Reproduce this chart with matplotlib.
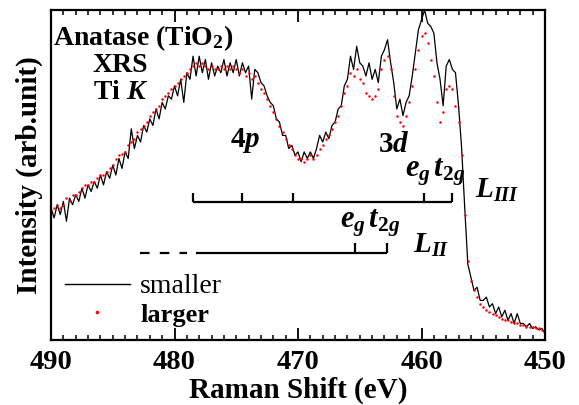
import matplotlib
matplotlib.use('Agg')
import matplotlib.pyplot as plt
from matplotlib.lines import Line2D
from matplotlib.ticker import MultipleLocator

# ---------------- data ----------------
energy = [
    490.00, 489.75, 489.50, 489.25, 489.00, 488.75, 488.50, 488.25,
    488.00, 487.75, 487.50, 487.25, 487.00, 486.75, 486.50, 486.25,
    486.00, 485.75, 485.50, 485.25, 485.00, 484.75, 484.50, 484.25,
    484.00, 483.75, 483.50, 483.25, 483.00, 482.75, 482.50, 482.25,
    482.00, 481.75, 481.50, 481.25, 481.00, 480.75, 480.50, 480.25,
    480.00, 479.75, 479.50, 479.25, 479.00, 478.75, 478.50, 478.25,
    478.00, 477.75, 477.50, 477.25, 477.00, 476.75, 476.50, 476.25,
    476.00, 475.75, 475.50, 475.25, 475.00, 474.75, 474.50, 474.25,
    474.00, 473.75, 473.50, 473.25, 473.00, 472.75, 472.50, 472.25,
    472.00, 471.75, 471.50, 471.25, 471.00, 470.75, 470.50, 470.25,
    470.00, 469.75, 469.50, 469.25, 469.00, 468.75, 468.50, 468.25,
    468.00, 467.75, 467.50, 467.25, 467.00, 466.75, 466.50, 466.25,
    466.00, 465.75, 465.50, 465.25, 465.00, 464.75, 464.50, 464.25,
    464.00, 463.75, 463.50, 463.25, 463.00, 462.75, 462.50, 462.25,
    462.00, 461.75, 461.50, 461.25, 461.00, 460.75, 460.50, 460.25,
    460.00, 459.75, 459.50, 459.25, 459.00, 458.75, 458.50, 458.25,
    458.00, 457.75, 457.50, 457.25, 457.00, 456.75, 456.50, 456.25,
    456.00, 455.75, 455.50, 455.25, 455.00, 454.75, 454.50, 454.25,
    454.00, 453.75, 453.50, 453.25, 453.00, 452.75, 452.50, 452.25,
    452.00, 451.75, 451.50, 451.25, 451.00, 450.75, 450.50, 450.25,
    450.00,
]

smaller = [
    0.40, 0.37, 0.41, 0.38, 0.42, 0.36, 0.43, 0.41,
    0.44, 0.42, 0.46, 0.43, 0.47, 0.45, 0.48, 0.46,
    0.50, 0.47, 0.51, 0.49, 0.53, 0.50, 0.55, 0.52,
    0.57, 0.55, 0.64, 0.58, 0.62, 0.60, 0.65, 0.63,
    0.67, 0.65, 0.70, 0.67, 0.72, 0.70, 0.74, 0.73,
    0.77, 0.74, 0.79, 0.72, 0.81, 0.79, 0.86, 0.80,
    0.86, 0.81, 0.85, 0.79, 0.84, 0.80, 0.83, 0.81,
    0.85, 0.80, 0.84, 0.81, 0.85, 0.80, 0.84, 0.81,
    0.83, 0.73, 0.82, 0.81, 0.78, 0.77, 0.74, 0.72,
    0.71, 0.67, 0.66, 0.62, 0.62, 0.58, 0.59, 0.56,
    0.57, 0.54, 0.57, 0.55, 0.57, 0.55, 0.58, 0.62,
    0.60, 0.63, 0.61, 0.65, 0.66, 0.70, 0.71, 0.77,
    0.79, 0.86, 0.82, 0.89, 0.84, 0.83, 0.80, 0.84,
    0.79, 0.82, 0.78, 0.86, 0.88, 0.91, 0.84, 0.78,
    0.70, 0.73, 0.68, 0.72, 0.74, 0.80, 0.87, 0.94,
    0.97, 1.00, 0.96, 0.95, 0.93, 0.84, 0.79, 0.71,
    0.83, 0.85, 0.82, 0.81, 0.71, 0.58, 0.40, 0.23,
    0.19, 0.15, 0.16, 0.12, 0.12, 0.13, 0.10, 0.11,
    0.08, 0.10, 0.07, 0.09, 0.06, 0.08, 0.05, 0.08,
    0.05, 0.05, 0.04, 0.05, 0.035, 0.04, 0.03, 0.035,
    0.02,
]

larger = [
    0.39, 0.40, 0.41, 0.40, 0.41, 0.43, 0.42, 0.44,
    0.44, 0.45, 0.46, 0.47, 0.47, 0.48, 0.48, 0.49,
    0.50, 0.50, 0.51, 0.52, 0.53, 0.55, 0.56, 0.565,
    0.57, 0.59, 0.60, 0.61, 0.63, 0.64, 0.65, 0.66,
    0.68, 0.69, 0.70, 0.71, 0.73, 0.74, 0.75, 0.76,
    0.77, 0.78, 0.79, 0.80, 0.81, 0.82, 0.83, 0.84,
    0.83, 0.84, 0.83, 0.82, 0.83, 0.82, 0.82, 0.83,
    0.82, 0.83, 0.82, 0.83, 0.82, 0.81, 0.82, 0.80,
    0.81, 0.79, 0.80, 0.78, 0.76, 0.75, 0.73, 0.71,
    0.69, 0.67, 0.65, 0.63, 0.61, 0.59, 0.58, 0.56,
    0.55, 0.55, 0.54, 0.55, 0.56, 0.55, 0.56, 0.58,
    0.59, 0.61, 0.62, 0.64, 0.66, 0.68, 0.71, 0.75,
    0.77, 0.81, 0.80, 0.82, 0.79, 0.78, 0.75, 0.74,
    0.73, 0.74, 0.76, 0.82, 0.85, 0.86, 0.82, 0.74,
    0.68, 0.66, 0.65, 0.68, 0.72, 0.77, 0.82, 0.88,
    0.92, 0.93, 0.90, 0.85, 0.80, 0.72, 0.66, 0.69,
    0.76, 0.77, 0.76, 0.71, 0.66, 0.56, 0.38, 0.24,
    0.18, 0.15, 0.13, 0.11, 0.10, 0.09, 0.085, 0.08,
    0.075, 0.07, 0.065, 0.06, 0.06, 0.055, 0.05, 0.05,
    0.045, 0.045, 0.04, 0.04, 0.04, 0.035, 0.035, 0.03,
    0.03,
]

# energy-level ladders (eV)
L3_span = [478.5, 457.5]
L3_ticks = [478.5, 474.5, 470.4, 459.8, 457.5]
L3_level = 0.419
L2_span = [478.3, 462.8]
L2_dash = [482.8, 479.0]
L2_ticks = [465.4, 462.8]
L2_level = 0.263

xticks = [490, 480, 470, 460, 450]
xticklabels = ['490', '480', '470', '460', '450']
series_labels = ['smaller', 'larger']

# ---------------- style ----------------
plt.rcParams['font.family'] = ['Liberation Serif', 'DejaVu Serif']
plt.rcParams['mathtext.fontset'] = 'custom'
plt.rcParams['mathtext.rm'] = 'Liberation Serif:bold'
plt.rcParams['mathtext.it'] = 'Liberation Serif:italic:bold'
plt.rcParams['mathtext.bf'] = 'Liberation Serif:bold'

fig = plt.figure(figsize=(5.79, 4.05), dpi=100)
ax = fig.add_axes([0.0881, 0.1605, 0.8532, 0.8148])

ax.plot(energy, smaller, color='black', lw=0.9)
ax.plot(energy, larger, ls='none', marker='o', ms=1.8, mfc='red', mec='none')

# level ladders
lw_lv = 1.6
ax.plot(L3_span, [L3_level, L3_level], color='black', lw=lw_lv, solid_capstyle='butt')
ax.vlines(L3_ticks, L3_level, L3_level + 0.027, color='black', lw=lw_lv)
ax.plot(L2_span, [L2_level, L2_level], color='black', lw=lw_lv, solid_capstyle='butt')
ax.plot(L2_dash, [L2_level, L2_level], color='black', lw=lw_lv, dashes=(4.3, 4.6),
        dash_capstyle='butt')
ax.vlines(L2_ticks, L2_level, L2_level + 0.03, color='black', lw=lw_lv)

# annotations
fs = 21
ax.text(475.5, 0.585, r'$\mathit{4p}$', fontsize=fs)
ax.text(463.5, 0.570, r'$\mathit{3d}$', fontsize=fs)
ax.text(461.35, 0.494, r'$\mathit{e_g\,t_{2g}}$', fontsize=22)
ax.text(455.7, 0.43, r'$\mathit{L_{III}}$', fontsize=21)
ax.text(466.6, 0.342, r'$\mathit{e_g\,t_{2g}}$', fontsize=22)
ax.text(460.7, 0.264, r'$\mathit{L_{II}}$', fontsize=21)

ax.text(0.004, 0.894, r'Anatase (TiO$_2$)', transform=ax.transAxes, fontsize=20,
        fontweight='bold', va='baseline')
ax.text(0.14, 0.812, 'XRS', transform=ax.transAxes, fontsize=20, fontweight='bold',
        ha='center', va='baseline')
ax.text(0.14, 0.730, r'Ti $K$', transform=ax.transAxes, fontsize=20, fontweight='bold',
        ha='center', va='baseline')

# axes
ax.set_xlim(490, 450)
ax.set_ylim(0, 1)
ax.set_yticks([])
ax.set_xticks(xticks)
ax.set_xticklabels(xticklabels, fontsize=20.5, fontweight='bold')
ax.xaxis.set_minor_locator(MultipleLocator(1))
ax.tick_params(axis='x', which='major', direction='in', length=8.6, width=1.3,
               top=True, bottom=True, pad=7.5)
ax.tick_params(axis='x', which='minor', direction='in', length=3.6, width=1.1,
               top=True, bottom=True)
for s in ax.spines.values():
    s.set_linewidth(1.6)

ax.set_xlabel('Raman Shift (eV)', fontsize=21, fontweight='bold')
ax.xaxis.set_label_coords(0.5, -0.112)
ax.set_ylabel('Intensity (arb.unit)', fontsize=21, fontweight='bold')
ax.yaxis.set_label_coords(-0.017, 0.5)

handles = [Line2D([0], [0], color='black', lw=1.0),
           Line2D([0], [0], ls='none', marker='o', ms=2.6, mfc='red', mec='none')]
leg = ax.legend(handles, series_labels, loc='upper left', bbox_to_anchor=(0.028, 0.200),
                frameon=False, borderpad=0, borderaxespad=0, handlelength=2.35,
                handletextpad=0.36, labelspacing=0.1,
                prop={'family': 'Liberation Serif', 'size': 20})
leg.get_texts()[1].set_fontweight('bold')
leg.get_texts()[1].set_fontsize(19)

fig.savefig('out.png', dpi=100)
